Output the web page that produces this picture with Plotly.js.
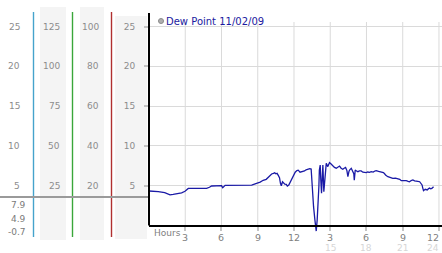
<!DOCTYPE html>
<html><head><meta charset="utf-8">
<script src="https://cdn.plot.ly/plotly-3.0.1.min.js"></script>
<style>html,body{margin:0;padding:0;background:#fff;}#chart{width:442px;height:253px;}</style>
</head><body><div id="chart"></div>
<script>
// ---- data ----
const seriesName = "Dew Point 11/02/09";
const hours = [0.0,0.4,0.77,1.3,1.74,2.0,2.3,2.7,2.98,3.25,4.0,4.77,5.0,5.18,6.0,6.1,6.3,7.5,8.5,8.9,9.2,9.45,9.7,9.9,10.15,10.3,10.4,10.5,10.6,10.7,10.8,10.88,10.95,11.05,11.13,11.24,11.36,11.45,11.57,11.7,11.8,12.0,12.1,12.24,12.35,12.5,12.73,12.87,13.0,13.15,13.3,13.42,13.48,13.56,13.62,13.73,13.84,13.92,14.0,14.06,14.1,14.17,14.22,14.28,14.33,14.39,14.47,14.58,14.67,14.8,14.94,15.05,15.2,15.35,15.5,15.65,15.77,15.9,16.04,16.15,16.27,16.38,16.46,16.55,16.6,16.74,16.87,16.95,16.99,17.07,17.18,17.29,17.42,17.56,17.7,17.84,17.98,18.1,18.25,18.39,18.55,18.7,18.8,19.0,19.22,19.4,19.5,19.6,19.77,19.95,20.18,20.4,20.6,20.75,20.88,21.1,21.29,21.45,21.56,21.7,21.84,21.98,22.12,22.25,22.4,22.5,22.6,22.66,22.72,22.86,22.95,23.03,23.12,23.22,23.31,23.41,23.55];
const dewPoint = [4.33,4.3,4.25,4.12,3.85,3.9,3.96,4.1,4.3,4.65,4.67,4.67,4.8,4.96,5.0,4.75,5.05,5.05,5.08,5.3,5.45,5.68,5.8,6.1,6.47,6.55,6.63,6.5,6.55,6.3,6.0,5.3,5.0,5.5,5.3,5.2,5.17,4.96,5.09,5.5,5.72,6.5,6.7,6.9,6.95,6.7,6.76,6.85,7.0,7.06,7.15,7.1,5.4,3.5,2.36,0.7,-0.7,0.7,2.36,4.9,6.97,7.6,5.7,4.04,5.7,7.6,4.25,6.56,7.8,7.4,7.9,7.75,7.5,7.3,7.2,7.35,7.47,7.2,7.06,7.2,7.3,6.9,6.13,6.8,6.97,7.18,6.8,6.5,5.7,6.97,6.85,6.76,6.85,6.85,6.7,6.68,6.64,6.72,6.68,6.76,6.7,6.85,6.9,6.8,6.76,6.65,6.5,6.3,6.13,6.05,5.93,5.95,5.88,5.8,5.63,5.65,5.63,5.55,5.5,5.65,5.72,5.6,5.62,5.55,5.5,5.3,5.09,4.7,4.37,4.55,4.45,4.46,4.6,4.7,4.6,4.66,4.87];
const yTicks = [5,10,15,20,25];
const col2Ticks = [25,50,75,100,125];
const col3Ticks = [20,40,60,80,100];
const xTicks = [3,6,9,12,15,18,21,24];
const xTickText = ["3","6","9","12","3","6","9","12"];
const xTickText2 = ["","","","","15","18","21","24"];
const statLabels = ["7.9","4.9","-0.7"];
const xAxisTitle = "Hours";

// ---- layout geometry ----
const W=442, H=253, L=149, R=0, T=22, B=21;
const PW=W-L-R, PH=H-T-B;
const X = px => (px-L)/PW;
const Y = py => (H-B-py)/PH;
const FONT = "DejaVu Sans, Verdana, sans-serif";
const yRange = [-0.82, 25.57];
const xRange = [0, 24.25];

const shapes = [];
const annotations = [];

// left panel background columns
[[40,66,7,240],[80,104,7,240],[115,147,16,239]].forEach(c=>{
  shapes.push({type:'rect',xref:'paper',yref:'paper',x0:X(c[0]),x1:X(c[1]),y0:Y(c[3]),y1:Y(c[2]),
    fillcolor:'#f4f4f4',line:{width:0},layer:'below'});
});
// colored scale lines
[[33.5,'#45a3cc'],[72.5,'#3aa63a'],[111.5,'#b03030']].forEach(c=>{
  shapes.push({type:'line',xref:'paper',yref:'paper',x0:X(c[0]),x1:X(c[0]),y0:Y(12),y1:Y(237),
    line:{color:c[1],width:1.4}});
});
// gray divider line
shapes.push({type:'line',xref:'paper',yref:'paper',x0:X(0),x1:X(149),y0:Y(197),y1:Y(197),line:{color:'#9a9a9a',width:2}});
// vertical gridlines
xTicks.forEach(t=>{
  shapes.push({type:'line',xref:'x',yref:'y',x0:t,x1:t,y0:0,y1:yRange[1],line:{color:'#dadada',width:1},layer:'below'});
});
// left axis line
shapes.push({type:'line',xref:'paper',yref:'paper',x0:X(149),x1:X(149),y0:Y(225.5),y1:Y(13),line:{color:'#000',width:2}});
// legend marker
shapes.push({type:'circle',xref:'paper',yref:'paper',x0:X(158.5),x1:X(163.5),y0:Y(23.5),y1:Y(18.5),
  fillcolor:'#b0b0b0',line:{color:'#8a8a8a',width:1}});

const txt = (text,x,y,xanchor,color,size,xref,yref)=>({text,x,y,xanchor,yanchor:'middle',xref,yref,
  showarrow:false,borderpad:0,font:{family:FONT,size,color}});

// left panel labels
yTicks.forEach(v=>annotations.push(txt(String(v),X(21),v,'right','#8c8c8c',9,'paper','y')));
col2Ticks.forEach((v,i)=>annotations.push(txt(String(v),X(60.5),yTicks[i],'right','#8c8c8c',9,'paper','y')));
col3Ticks.forEach((v,i)=>annotations.push(txt(String(v),X(99.5),yTicks[i],'right','#8c8c8c',9,'paper','y')));
[205,219,231.5].forEach((py,i)=>annotations.push(txt(statLabels[i],X(27),Y(py),'right','#7a7a7a',9,'paper','paper')));
// legend text
annotations.push(txt(seriesName,X(165),Y(21),'left','#1a1aa0',10,'paper','paper'));
// x axis title and labels
annotations.push(txt(xAxisTitle,X(153),Y(232.5),'left','#808080',9,'paper','paper'));
xTicks.forEach((t,i)=>{
  const last = i===xTicks.length-1;
  annotations.push(txt(xTickText[i],last?t+0.1:t,Y(237.5),last?'right':'center','#808080',9.5,'x','paper'));
  if(xTickText2[i]) annotations.push(txt(xTickText2[i],last?t+0.1:t,Y(248),last?'right':'center','#d6d6d6',9,'x','paper'));
});

const data = [{
  type:'scatter', mode:'lines', x:hours, y:dewPoint, name:seriesName,
  line:{color:'#1a1aa6',width:1.3}, hoverinfo:'skip'
}];

const layout = {
  width:W, height:H, margin:{l:L,r:R,t:T,b:B,pad:0},
  paper_bgcolor:'#fff', plot_bgcolor:'rgba(0,0,0,0)',
  showlegend:false,
  font:{family:FONT,size:9,color:'#888'},
  xaxis:{range:xRange, anchor:'free', position:Y(225.5), showgrid:false, zeroline:false,
    showline:true, linecolor:'#000', linewidth:2,
    tickvals:xTicks, ticks:'outside', ticklen:4, tickwidth:2, tickcolor:'#c4c4c4', showticklabels:false, fixedrange:true},
  yaxis:{range:yRange, tickvals:yTicks, showgrid:true, gridcolor:'#dadada', gridwidth:1, zeroline:false, showline:false,
    ticks:'outside', ticklen:4, tickwidth:2, tickcolor:'#c4c4c4', ticklabelstandoff:7,
    tickfont:{family:FONT,size:9,color:'#8c8c8c'}, fixedrange:true},
  shapes, annotations
};
Plotly.newPlot('chart', data, layout, {displayModeBar:false, staticPlot:true});
</script></body></html>
